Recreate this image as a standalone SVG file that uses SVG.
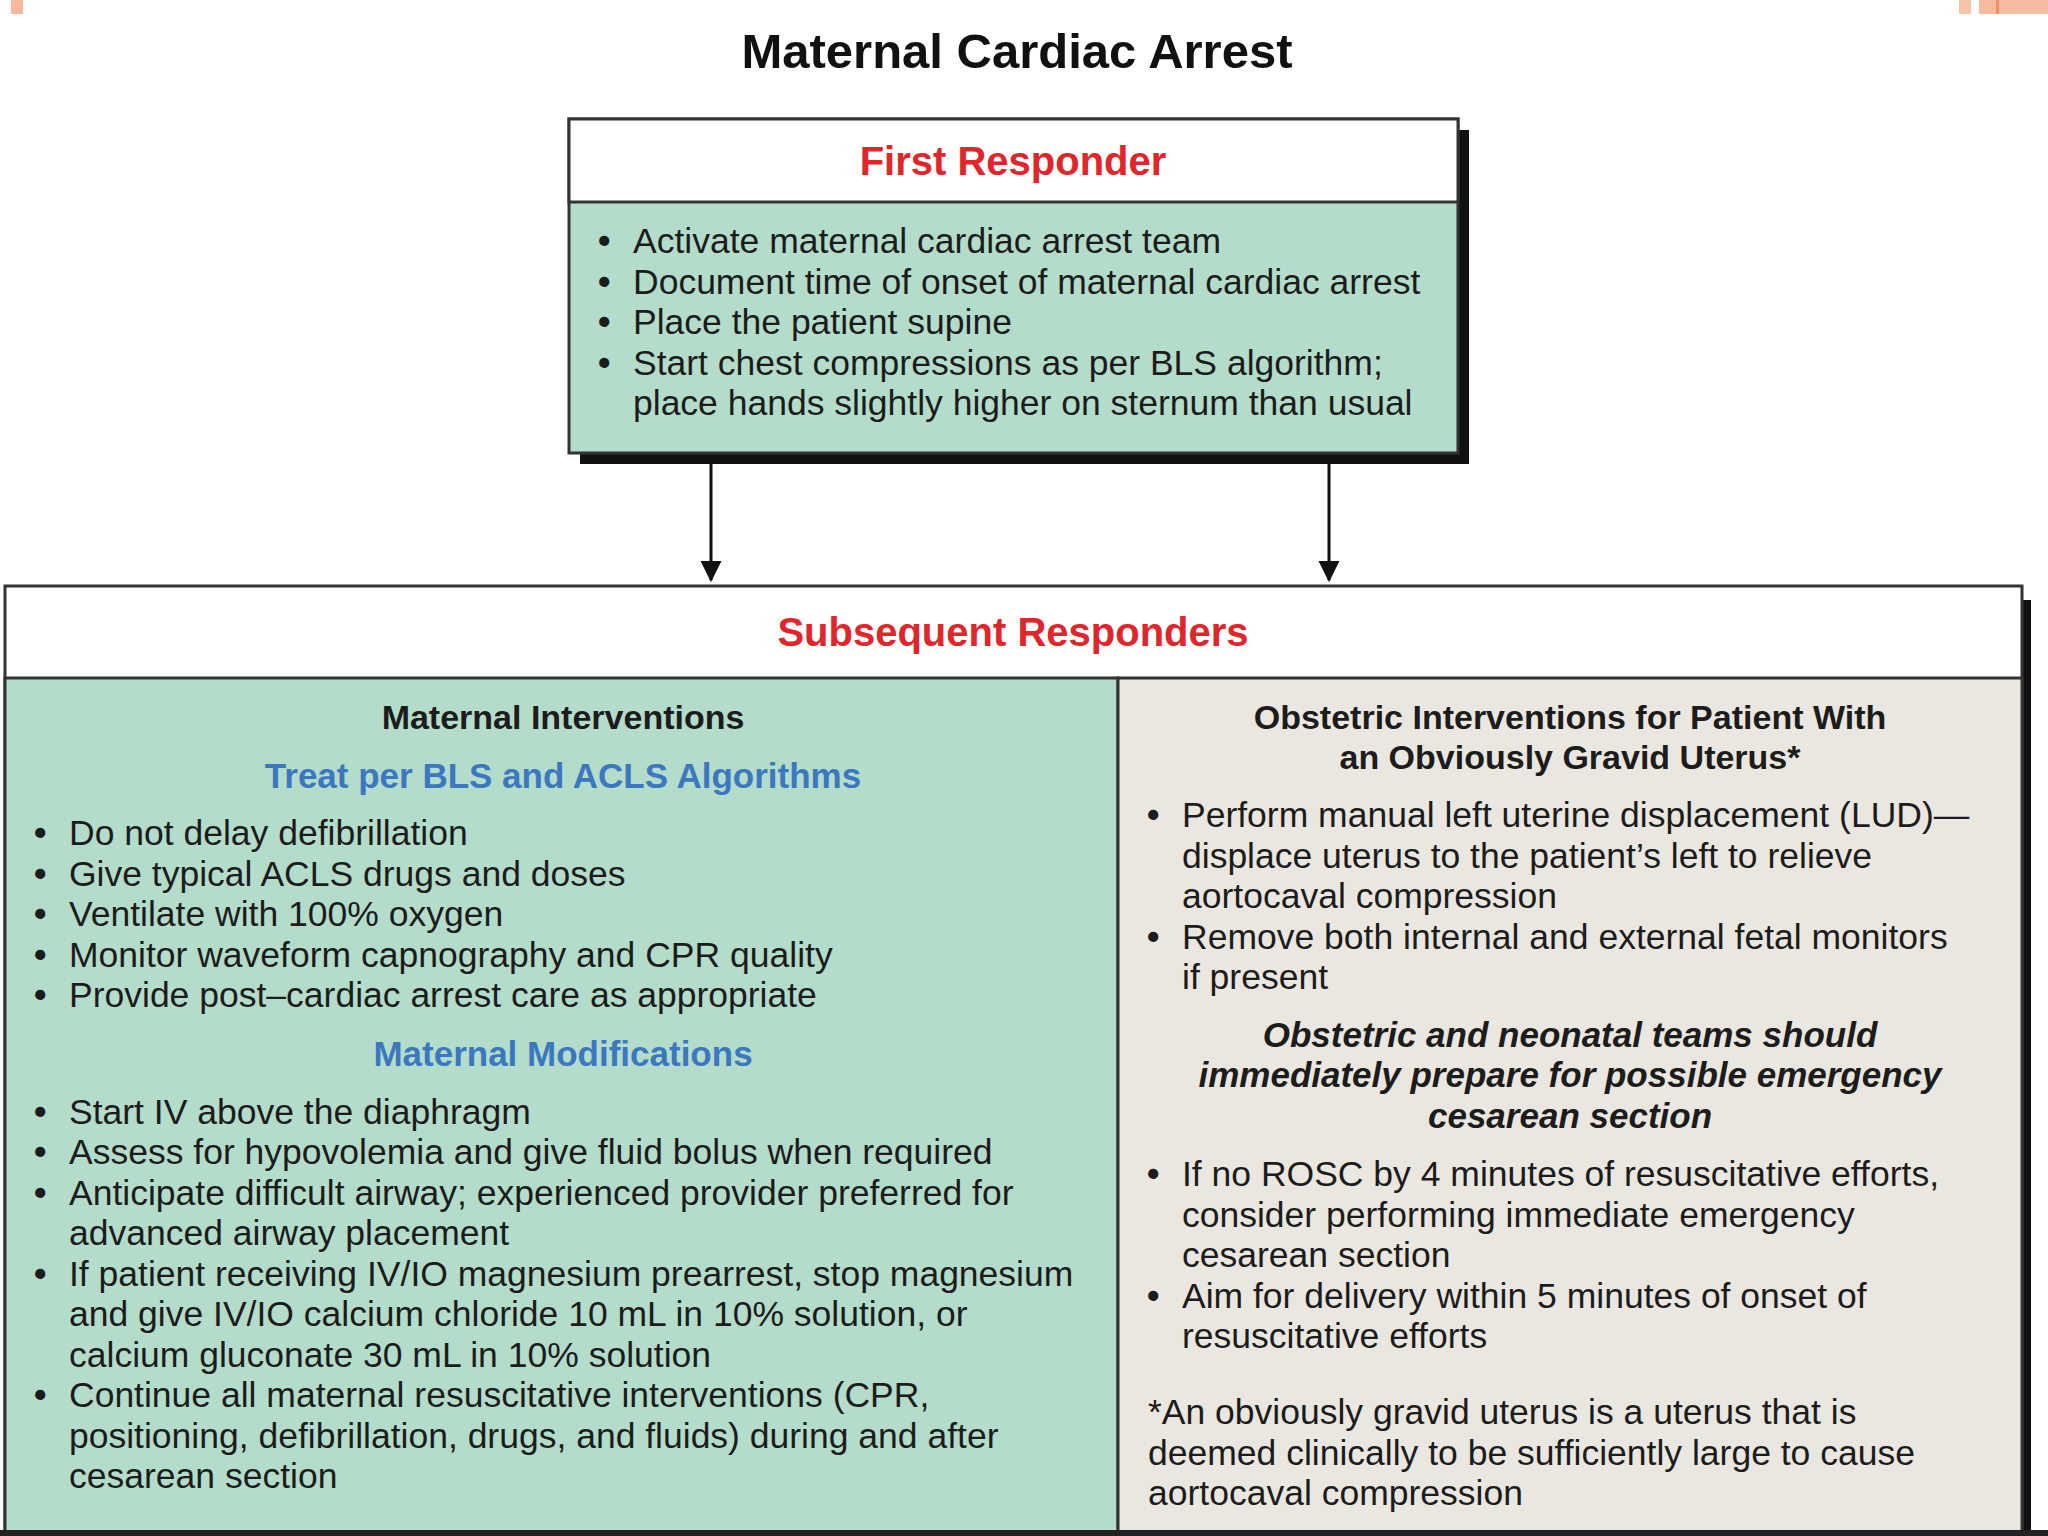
<svg xmlns="http://www.w3.org/2000/svg" width="2048" height="1536" viewBox="0 0 2048 1536">
<defs>
<style>
.t{font-family:"Liberation Sans",Arial,sans-serif;fill:#1c1c1c;font-size:35.5px}
.d{font-family:"Liberation Sans",Arial,sans-serif;fill:#1c1c1c;font-size:35.5px;font-weight:bold}
.h{font-family:"Liberation Sans",Arial,sans-serif;font-weight:bold;font-size:40px;fill:#e0262b;text-anchor:middle}
.s{font-family:"Liberation Sans",Arial,sans-serif;font-weight:bold;font-size:34px;fill:#1c1c1c;text-anchor:middle}
.b{font-family:"Liberation Sans",Arial,sans-serif;font-weight:bold;font-size:35px;fill:#3b78bf;text-anchor:middle}
.i{font-family:"Liberation Sans",Arial,sans-serif;font-weight:bold;font-style:italic;font-size:35px;fill:#1c1c1c;text-anchor:middle}
.box{stroke:#333;stroke-width:3}
.conn{stroke:#111;stroke-width:3;fill:none}
</style>
<marker id="arr" viewBox="0 0 10 10" refX="9" refY="5" markerWidth="7" markerHeight="8" orient="auto" markerUnits="strokeWidth">
<path d="M0,0 L10,5 L0,10 z" fill="#111"/>
</marker>
</defs>
<rect width="2048" height="1536" fill="#ffffff"/>
<rect x="11" y="0" width="12" height="14" fill="#f7b89c"/>
<rect x="1959" y="0" width="12" height="14" fill="#f7c4a8"/>
<rect x="1979" y="0" width="69" height="14" fill="#f7bca0"/>
<rect x="1996" y="0" width="3" height="14" fill="#ee9060"/>

<g id="title">
<text x="1017" y="68" font-family="Liberation Sans, Arial, sans-serif" font-weight="bold" font-size="49" fill="#111" text-anchor="middle">Maternal Cardiac Arrest</text>
</g>

<g id="first-responder">
<rect x="580" y="130" width="889" height="334" fill="#111"/>
<rect x="569" y="119" width="889" height="334" fill="#b4dccb" class="box"/>
<rect x="569" y="119" width="889" height="83" fill="#ffffff" class="box"/>
<text class="h" x="1013" y="175">First Responder</text>
<text class="d" x="598" y="253">•</text><text class="t" x="633" y="253">Activate maternal cardiac arrest team</text>
<text class="d" x="598" y="294">•</text><text class="t" x="633" y="294">Document time of onset of maternal cardiac arrest</text>
<text class="d" x="598" y="334">•</text><text class="t" x="633" y="334">Place the patient supine</text>
<text class="d" x="598" y="375">•</text><text class="t" x="633" y="375">Start chest compressions as per BLS algorithm;</text>
<text class="t" x="633" y="415">place hands slightly higher on sternum than usual</text>
</g>

<g id="connectors">
<line class="conn" x1="711" y1="464" x2="711" y2="580" marker-end="url(#arr)"/>
<line class="conn" x1="1329" y1="464" x2="1329" y2="580" marker-end="url(#arr)"/>
</g>

<g id="subsequent-responders">
<rect x="2020" y="600" width="11" height="936" fill="#111"/>
<rect x="5" y="586" width="2017" height="960" fill="#ffffff" class="box"/>
<rect x="5" y="678" width="1113" height="868" fill="#b4dccb" class="box"/>
<rect x="1118" y="678" width="904" height="868" fill="#e9e7df" class="box"/>
<rect x="0" y="1530" width="2048" height="6" fill="#222"/>
<text class="h" x="1013" y="646">Subsequent Responders</text>
</g>

<g id="maternal-interventions">
<text class="s" x="563" y="729">Maternal Interventions</text>
<text class="b" x="563" y="788">Treat per BLS and ACLS Algorithms</text>
<text class="d" x="34" y="845">•</text><text class="t" x="69" y="845">Do not delay defibrillation</text>
<text class="d" x="34" y="886">•</text><text class="t" x="69" y="886">Give typical ACLS drugs and doses</text>
<text class="d" x="34" y="926">•</text><text class="t" x="69" y="926">Ventilate with 100% oxygen</text>
<text class="d" x="34" y="967">•</text><text class="t" x="69" y="967">Monitor waveform capnography and CPR quality</text>
<text class="d" x="34" y="1007">•</text><text class="t" x="69" y="1007">Provide post–cardiac arrest care as appropriate</text>
<text class="b" x="563" y="1066">Maternal Modifications</text>
<text class="d" x="34" y="1124">•</text><text class="t" x="69" y="1124">Start IV above the diaphragm</text>
<text class="d" x="34" y="1164">•</text><text class="t" x="69" y="1164">Assess for hypovolemia and give fluid bolus when required</text>
<text class="d" x="34" y="1205">•</text><text class="t" x="69" y="1205">Anticipate difficult airway; experienced provider preferred for</text>
<text class="t" x="69" y="1245">advanced airway placement</text>
<text class="d" x="34" y="1286">•</text><text class="t" x="69" y="1286">If patient receiving IV/IO magnesium prearrest, stop magnesium</text>
<text class="t" x="69" y="1326">and give IV/IO calcium chloride 10 mL in 10% solution, or</text>
<text class="t" x="69" y="1367">calcium gluconate 30 mL in 10% solution</text>
<text class="d" x="34" y="1407">•</text><text class="t" x="69" y="1407">Continue all maternal resuscitative interventions (CPR,</text>
<text class="t" x="69" y="1448">positioning, defibrillation, drugs, and fluids) during and after</text>
<text class="t" x="69" y="1488">cesarean section</text>
</g>

<g id="obstetric-interventions">
<text class="s" x="1570" y="729">Obstetric Interventions for Patient With</text>
<text class="s" x="1570" y="769">an Obviously Gravid Uterus*</text>
<text class="d" x="1147" y="827">•</text><text class="t" x="1182" y="827">Perform manual left uterine displacement (LUD)—</text>
<text class="t" x="1182" y="868">displace uterus to the patient’s left to relieve</text>
<text class="t" x="1182" y="908">aortocaval compression</text>
<text class="d" x="1147" y="949">•</text><text class="t" x="1182" y="949">Remove both internal and external fetal monitors</text>
<text class="t" x="1182" y="989">if present</text>
<text class="i" x="1570" y="1047">Obstetric and neonatal teams should</text>
<text class="i" x="1570" y="1087">immediately prepare for possible emergency</text>
<text class="i" x="1570" y="1128">cesarean section</text>
<text class="d" x="1147" y="1186">•</text><text class="t" x="1182" y="1186">If no ROSC by 4 minutes of resuscitative efforts,</text>
<text class="t" x="1182" y="1227">consider performing immediate emergency</text>
<text class="t" x="1182" y="1267">cesarean section</text>
<text class="d" x="1147" y="1308">•</text><text class="t" x="1182" y="1308">Aim for delivery within 5 minutes of onset of</text>
<text class="t" x="1182" y="1348">resuscitative efforts</text>
<text class="t" x="1148" y="1424">*An obviously gravid uterus is a uterus that is</text>
<text class="t" x="1148" y="1465">deemed clinically to be sufficiently large to cause</text>
<text class="t" x="1148" y="1505">aortocaval compression</text>
</g>
</svg>
